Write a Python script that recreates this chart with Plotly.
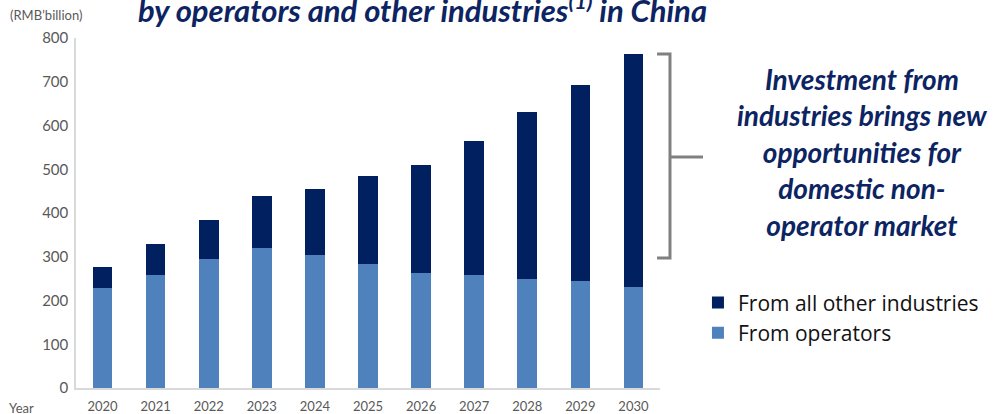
import plotly.graph_objects as go

years = ["2020", "2021", "2022", "2023", "2024", "2025", "2026", "2027", "2028", "2029", "2030"]
operators = [229, 259, 295, 320, 304, 283, 263, 258, 249, 245, 231]
totals = [277, 329, 384, 439, 455, 485, 510, 565, 631, 693, 763]
other_industries = [t - o for t, o in zip(totals, operators)]
y_ticks = [0, 100, 200, 300, 400, 500, 600, 700, 800]

LIGHT = "#4f81bd"
DARK = "#002060"
NAVY_TEXT = "#0c2462"
GRAY = "#595959"

fig = go.Figure()
fig.add_trace(go.Bar(x=years, y=operators, name="From operators", marker=dict(color=LIGHT, line=dict(width=0))))
fig.add_trace(go.Bar(x=years, y=other_industries, name="From all other industries", marker=dict(color=DARK, line=dict(width=0))))

fig.update_layout(
    barmode="stack",
    bargap=0.63,
    width=1000, height=414,
    margin=dict(l=76, r=340, t=38, b=26, autoexpand=False),
    paper_bgcolor="white", plot_bgcolor="white",
    font=dict(family="Lato", color=GRAY),
    showlegend=True,
    legend=dict(
        x=1.065, y=0.302, xanchor="left", yanchor="top",
        traceorder="reversed",
        font=dict(family="Open Sans", size=21, color="#111111"),
        bgcolor="rgba(0,0,0,0)",
        itemclick=False,
        tracegroupgap=0,
    ),
    xaxis=dict(
        showline=True, linecolor="#d9d9d9", linewidth=1.5,
        ticks="", showgrid=False, automargin=False,
        tickfont=dict(size=13, color=GRAY),
        ticklabelstandoff=6,
    ),
    yaxis=dict(
        range=[0, 800], tickvals=y_ticks,
        showline=True, linecolor="#d9d9d9", linewidth=1.5,
        showgrid=False, zeroline=False, ticks="", automargin=False,
        tickfont=dict(size=15, color=GRAY),
        ticklabelstandoff=3,
    ),
)

# Title (cropped at top in the reference)
fig.add_annotation(
    xref="paper", yref="paper", x=0.594, y=1.02, xanchor="center", yanchor="bottom",
    text="<b><i>by operators and other industries<sup>(1)</sup> in China</i></b>",
    showarrow=False, font=dict(family="Lato", size=31, color=NAVY_TEXT),
)
# Unit label
fig.add_annotation(
    xref="paper", yref="paper", x=-0.051, y=1.066, xanchor="center", yanchor="middle",
    text="(RMB’billion)", showarrow=False, font=dict(family="Lato", size=13, color=GRAY),
)
# Year label
fig.add_annotation(
    xref="paper", yref="paper", x=-0.0925, y=-0.057, xanchor="center", yanchor="middle",
    text="Year", showarrow=False, font=dict(family="Lato", size=13, color=GRAY),
)
# Callout text
fig.add_annotation(
    xref="paper", yref="paper", x=1.3476, y=0.674, xanchor="center", yanchor="middle",
    text="<b><i>Investment from<br>industries brings new<br>opportunities for<br>domestic non-<br>operator market</i></b>",
    showarrow=False, align="center", font=dict(family="Lato", size=28, color=NAVY_TEXT),
)
# Bracket
fig.add_shape(
    type="path", xref="paper", yref="paper",
    path="M 0.995 0.954 L 1.0171 0.954 L 1.0171 0.3714 L 0.995 0.3714 M 1.0171 0.66 L 1.0736 0.66",
    line=dict(color="#808080", width=3),
)

fig.write_html("out.html")
